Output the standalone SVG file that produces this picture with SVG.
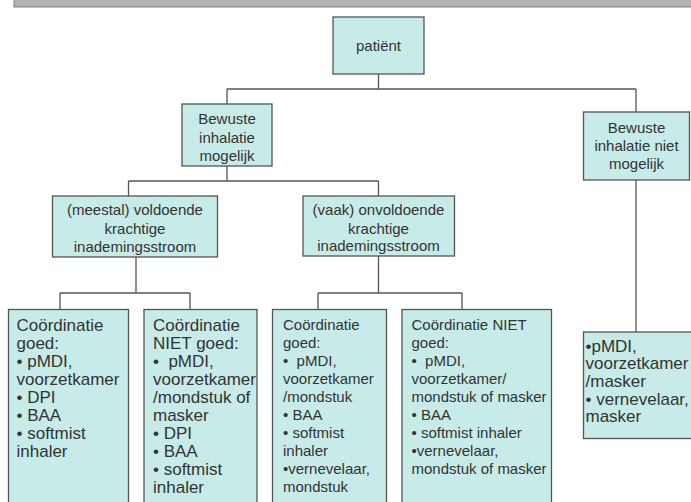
<svg xmlns="http://www.w3.org/2000/svg" width="691" height="502" viewBox="0 0 691 502">
  <style>
    .box { fill: #c7ebe8; stroke: #555; stroke-width: 1.3; }
    .wire { fill: none; stroke: #555; stroke-width: 1.3; }
    text { font-family: "Liberation Sans", Arial, sans-serif; fill: #333; white-space: pre; }
    .c { font-size: 15px; text-anchor: middle; }
    .s { font-size: 15px; }
    .l { font-size: 17px; }
  </style>

  <!-- title bar across the top edge -->
  <rect x="14" y="-2" width="680" height="9" fill="#b3b3b3" stroke="#808080" stroke-width="1"/>

  <!-- connectors -->
  <g id="connectors">
    <path class="wire" d="M378.5,74 V89 M227,89 H636 M227,89 V104 M636,89 V112"/>
    <path class="wire" d="M227,166 V181 M128.5,181 H378.5 M128.5,181 V196 M378.5,181 V196"/>
    <path class="wire" d="M136,257 V293 M60,293 H190 M60,293 V309 M190,293 V309"/>
    <path class="wire" d="M378.5,256 V293 M318,293 H462 M318,293 V309 M462,293 V309"/>
    <path class="wire" d="M636,180 V332"/>
  </g>

  <g id="patient">
    <rect class="box" x="333" y="17" width="91" height="57"/>
    <text class="c" x="378.5" y="51">patiënt</text>
  </g>

  <g id="bewust-mogelijk">
    <rect class="box" x="182" y="104" width="90" height="62"/>
    <text class="c" x="227" y="124">Bewuste</text>
    <text class="c" x="227" y="143">inhalatie</text>
    <text class="c" x="227" y="161">mogelijk</text>
  </g>

  <g id="bewust-niet-mogelijk">
    <rect class="box" x="583.5" y="112" width="106" height="68"/>
    <text class="c" x="636.5" y="133">Bewuste</text>
    <text class="c" x="636.5" y="151">inhalatie niet</text>
    <text class="c" x="636.5" y="169">mogelijk</text>
  </g>

  <g id="voldoende">
    <rect class="box" x="52.5" y="196" width="165" height="61"/>
    <text class="c" x="135" y="215">(meestal) voldoende</text>
    <text class="c" x="135" y="234">krachtige</text>
    <text class="c" x="135" y="252">inademingsstroom</text>
  </g>

  <g id="onvoldoende">
    <rect class="box" x="303" y="196" width="151.5" height="60"/>
    <text class="c" x="378.5" y="215">(vaak) onvoldoende</text>
    <text class="c" x="378.5" y="234">krachtige</text>
    <text class="c" x="378.5" y="251">inademingsstroom</text>
  </g>

  <g id="voldoende-coord-goed">
    <rect class="box" x="8.5" y="309.5" width="120" height="210"/>
    <text class="l" x="16.5" y="330.5">Coördinatie</text>
    <text class="l" x="16.5" y="348.6">goed:</text>
    <text class="l" x="16.5" y="366.7">• pMDI,</text>
    <text class="l" x="16.5" y="384.8">voorzetkamer</text>
    <text class="l" x="16.5" y="402.9">• DPI</text>
    <text class="l" x="16.5" y="421">• BAA</text>
    <text class="l" x="16.5" y="439.1">• softmist</text>
    <text class="l" x="16.5" y="457.2">inhaler</text>
  </g>

  <g id="voldoende-coord-niet-goed">
    <rect class="box" x="144" y="309.5" width="113" height="210"/>
    <text class="l" x="153" y="330.5">Coördinatie</text>
    <text class="l" x="153" y="348.6">NIET goed:</text>
    <text class="l" x="153" y="366.7">•  pMDI,</text>
    <text class="l" x="153" y="384.8">voorzetkamer</text>
    <text class="l" x="153" y="402.9">/mondstuk of</text>
    <text class="l" x="153" y="421">masker</text>
    <text class="l" x="153" y="439.1">• DPI</text>
    <text class="l" x="153" y="457.2">• BAA</text>
    <text class="l" x="153" y="475.3">• softmist</text>
    <text class="l" x="153" y="493.4">inhaler</text>
  </g>

  <g id="onvoldoende-coord-goed">
    <rect class="box" x="272.5" y="309.5" width="114" height="210"/>
    <text class="s" x="283" y="330">Coördinatie</text>
    <text class="s" x="283" y="348">goed:</text>
    <text class="s" x="283" y="366">•  pMDI,</text>
    <text class="s" x="283" y="384">voorzetkamer</text>
    <text class="s" x="283" y="402">/mondstuk</text>
    <text class="s" x="283" y="420">• BAA</text>
    <text class="s" x="283" y="438">• softmist</text>
    <text class="s" x="283" y="456">inhaler</text>
    <text class="s" x="283" y="474">•vernevelaar,</text>
    <text class="s" x="283" y="492">mondstuk</text>
  </g>

  <g id="onvoldoende-coord-niet-goed">
    <rect class="box" x="402" y="309.5" width="149.5" height="210"/>
    <text class="s" x="411.5" y="330">Coördinatie NIET</text>
    <text class="s" x="411.5" y="348">goed:</text>
    <text class="s" x="411.5" y="366">•  pMDI,</text>
    <text class="s" x="411.5" y="384">voorzetkamer/</text>
    <text class="s" x="411.5" y="402">mondstuk of masker</text>
    <text class="s" x="411.5" y="420">• BAA</text>
    <text class="s" x="411.5" y="438">• softmist inhaler</text>
    <text class="s" x="411.5" y="456">•vernevelaar,</text>
    <text class="s" x="411.5" y="474">mondstuk of masker</text>
  </g>

  <g id="niet-mogelijk-middelen">
    <rect class="box" x="583.5" y="332" width="110" height="106.5"/>
    <text class="l" x="585.5" y="351.5">•pMDI,</text>
    <text class="l" x="585.5" y="369.2">voorzetkamer</text>
    <text class="l" x="585.5" y="386.9">/masker</text>
    <text class="l" x="585.5" y="404.6">• vernevelaar,</text>
    <text class="l" x="585.5" y="422.3">masker</text>
  </g>
</svg>
